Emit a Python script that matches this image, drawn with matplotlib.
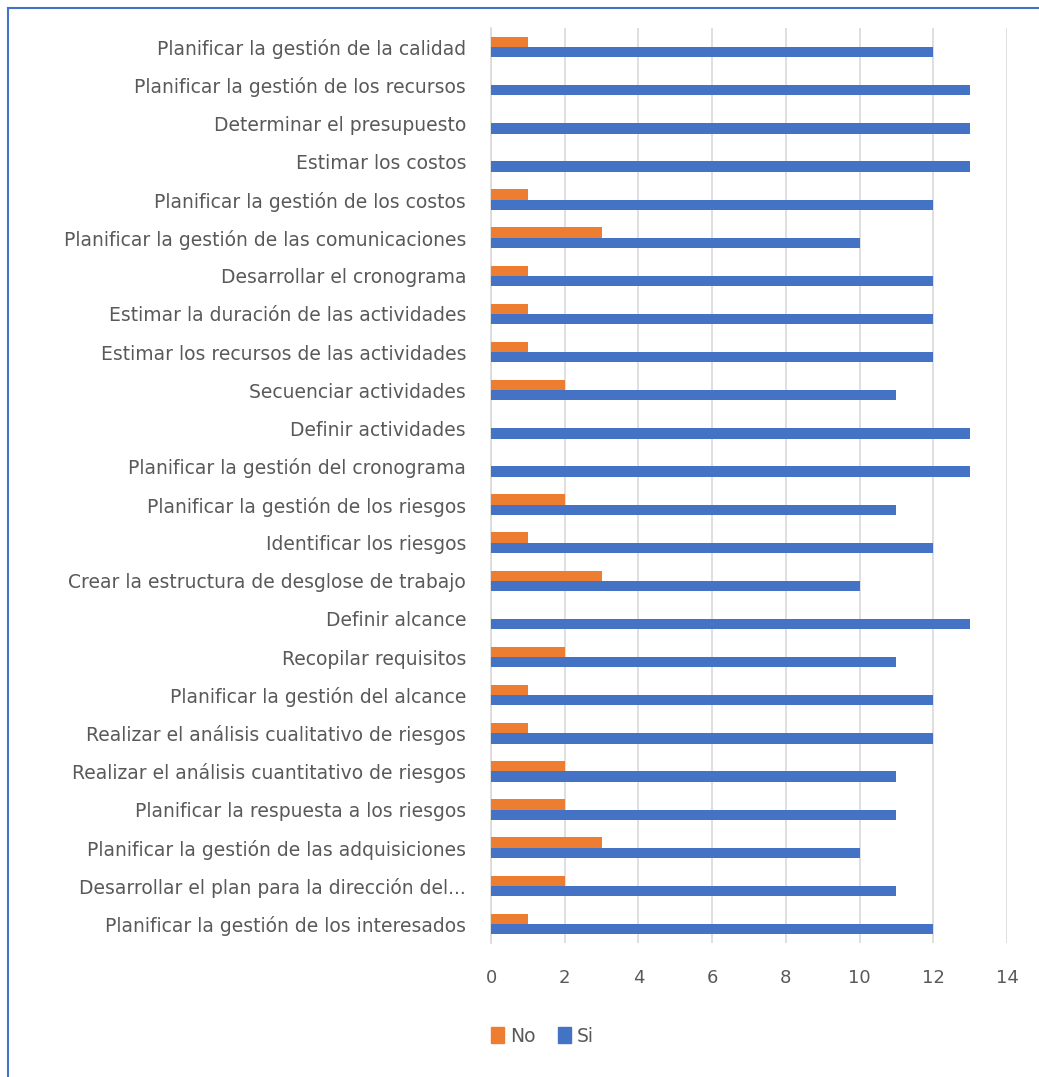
import numpy as np
import matplotlib.pyplot as plt
from matplotlib.lines import Line2D
from matplotlib.patches import Patch

# --- Daten (von oben nach unten) ---
categories = [
    "Planificar la gestión de la calidad",
    "Planificar la gestión de los recursos",
    "Determinar el presupuesto",
    "Estimar los costos",
    "Planificar la gestión de los costos",
    "Planificar la gestión de las comunicaciones",
    "Desarrollar el cronograma",
    "Estimar la duración de las actividades",
    "Estimar los recursos de las actividades",
    "Secuenciar actividades",
    "Definir actividades",
    "Planificar la gestión del cronograma",
    "Planificar la gestión de los riesgos",
    "Identificar los riesgos",
    "Crear la estructura de desglose de trabajo",
    "Definir alcance",
    "Recopilar requisitos",
    "Planificar la gestión del alcance",
    "Realizar el análisis cualitativo de riesgos",
    "Realizar el análisis cuantitativo de riesgos",
    "Planificar la respuesta a los riesgos",
    "Planificar la gestión de las adquisiciones",
    "Desarrollar el plan para la dirección del...",
    "Planificar la gestión de los interesados",
]
no_vals = [1, 0, 0, 0, 1, 3, 1, 1, 1, 2, 0, 0, 2, 1, 3, 0, 2, 1, 1, 2, 2, 3, 2, 1]
si_vals = [12, 13, 13, 13, 12, 10, 12, 12, 12, 11, 13, 13, 11, 12, 10, 13, 11, 12, 12, 11, 11, 10, 11, 12]
x_ticks = [0, 2, 4, 6, 8, 10, 12, 14]

C_NO = "#ED7D31"
C_SI = "#4472C4"
TXT = "#595959"

fig = plt.figure(figsize=(10.39, 10.77), dpi=100)
ax = fig.add_axes([0.4726, 0.1244, 0.4966, 0.8496])

y = np.arange(len(categories))
h = 0.27
ax.barh(y - h / 2, no_vals, height=h, color=C_NO, label="No", zorder=3)
ax.barh(y + h / 2, si_vals, height=h, color=C_SI, label="Si", zorder=3)

ax.set_ylim(len(categories) - 0.5, -0.5)
ax.set_xlim(0, 14)
ax.set_xticks(x_ticks)
ax.set_yticks(y)
ax.set_yticklabels(categories)
ax.tick_params(axis="y", length=0, pad=18, labelsize=13.5, labelcolor=TXT)
ax.tick_params(axis="x", length=0, pad=19, labelsize=13, labelcolor=TXT)
ax.xaxis.grid(True, color="#d9d9d9", linewidth=1.2, zorder=0)
ax.set_axisbelow(True)
for s in ["top", "right", "bottom"]:
    ax.spines[s].set_visible(False)
ax.spines["left"].set_color("#d9d9d9")
ax.spines["left"].set_linewidth(1.2)

handles = [Patch(color=C_NO, label="No"), Patch(color=C_SI, label="Si")]
fig.legend(handles=handles, loc="center", bbox_to_anchor=(0.522, 0.038), ncol=2,
           frameon=False, fontsize=13.5, handlelength=0.7, handleheight=0.9,
           handletextpad=0.3, columnspacing=1.2, labelcolor=TXT)

# Rahmen (oben und links sichtbar)
fig.add_artist(Line2D([8 / 1039, 1], [1 - 8 / 1077, 1 - 8 / 1077],
                      transform=fig.transFigure, color="#4472C4", linewidth=1.5))
fig.add_artist(Line2D([8 / 1039, 8 / 1039], [0, 1 - 8 / 1077],
                      transform=fig.transFigure, color="#4472C4", linewidth=1.5))

fig.savefig("out.png", dpi=100)
